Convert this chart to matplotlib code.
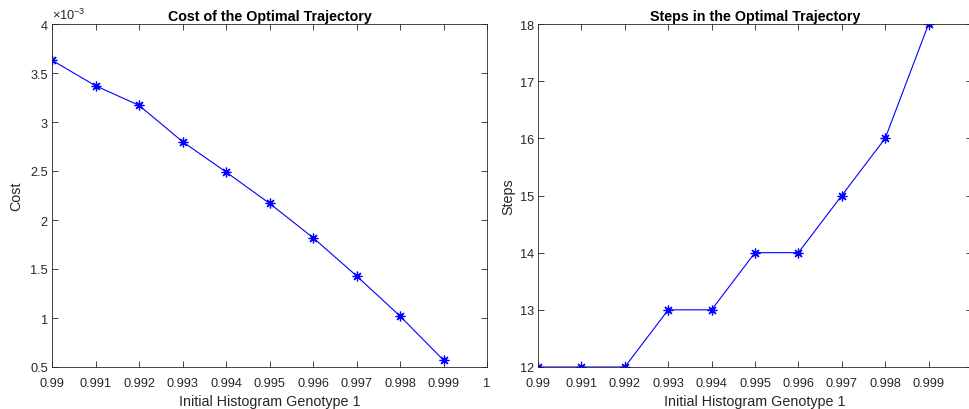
import matplotlib
matplotlib.use("Agg")
import matplotlib.pyplot as plt
import numpy as np

plt.rcParams['font.family'] = ['Liberation Sans', 'DejaVu Sans']
plt.rcParams['mathtext.fontset'] = 'custom'
plt.rcParams['mathtext.rm'] = 'Liberation Sans'
plt.rcParams['mathtext.it'] = 'Liberation Sans:italic'
plt.rcParams['mathtext.bf'] = 'Liberation Sans:bold'

x_vals = [0.990, 0.991, 0.992, 0.993, 0.994, 0.995, 0.996, 0.997, 0.998, 0.999]
cost_e3 = [3.63, 3.37, 3.17, 2.80, 2.49, 2.17, 1.82, 1.43, 1.02, 0.57]
steps = [12, 12, 12, 13, 13, 14, 14, 15, 16, 18]
x_ticks = [0.99, 0.991, 0.992, 0.993, 0.994, 0.995, 0.996, 0.997, 0.998, 0.999, 1]
x_ticklabels = ['0.99', '0.991', '0.992', '0.993', '0.994', '0.995', '0.996', '0.997', '0.998', '0.999', '1']
cost_ticks = [0.5, 1, 1.5, 2, 2.5, 3, 3.5, 4]
cost_ticklabels = ['0.5', '1', '1.5', '2', '2.5', '3', '3.5', '4']
step_ticks = [12, 13, 14, 15, 16, 17, 18]

W, H = 969, 410
fig = plt.figure(figsize=(W / 100, H / 100), dpi=100)
axc = '#262626'
TICK_FS = 9.2
LAB_FS = 10.3
asterisk = (8, 2, 0)

def style(ax):
    for s in ax.spines.values():
        s.set_color(axc)
        s.set_linewidth(0.6)
    ax.tick_params(direction='in', top=True, right=True, length=4, width=0.6,
                   colors=axc, labelsize=TICK_FS)
    ax.tick_params(axis='x', pad=7)
    ax.tick_params(axis='y', pad=3)

ax1 = fig.add_axes([52 / W, 1 - 368 / H, (487 - 52) / W, (368 - 25) / H])
ax1.plot(x_vals, cost_e3, color='#0000ff', marker=asterisk, markersize=7,
         markeredgewidth=0.9, linewidth=0.8)
ax1.set_xlim(0.99, 1.0)
ax1.set_ylim(0.5, 4)
ax1.set_xticks(x_ticks)
ax1.set_xticklabels(x_ticklabels)
ax1.set_yticks(cost_ticks)
ax1.set_yticklabels(cost_ticklabels)
style(ax1)
ax1.set_title('Cost of the Optimal Trajectory', fontsize=LAB_FS, fontweight='bold', pad=3)
ax1.set_xlabel('Initial Histogram Genotype 1', fontsize=LAB_FS, color=axc, labelpad=4)
ax1.set_ylabel('Cost', fontsize=LAB_FS, color=axc, labelpad=5)
ax1.text(0.0, 1.006, r'$\times10^{-3}$', transform=ax1.transAxes, fontsize=TICK_FS,
         color=axc, ha='left', va='bottom')

ax2 = fig.add_axes([538 / W, 1 - 368 / H, (972 - 538) / W, (368 - 25) / H])
ax2.plot(x_vals, steps, color='#0000ff', marker=asterisk, markersize=7,
         markeredgewidth=0.9, linewidth=0.8)
ax2.set_xlim(0.99, 1.0)
ax2.set_ylim(12, 18)
ax2.set_xticks(x_ticks)
ax2.set_xticklabels(x_ticklabels[:-1] + [''])
ax2.set_yticks(step_ticks)
style(ax2)
ax2.set_title('Steps in the Optimal Trajectory', fontsize=LAB_FS, fontweight='bold', pad=3)
ax2.set_xlabel('Initial Histogram Genotype 1', fontsize=LAB_FS, color=axc, labelpad=4)
ax2.set_ylabel('Steps', fontsize=LAB_FS, color=axc, labelpad=3)

fig.savefig('out.png', dpi=100)
